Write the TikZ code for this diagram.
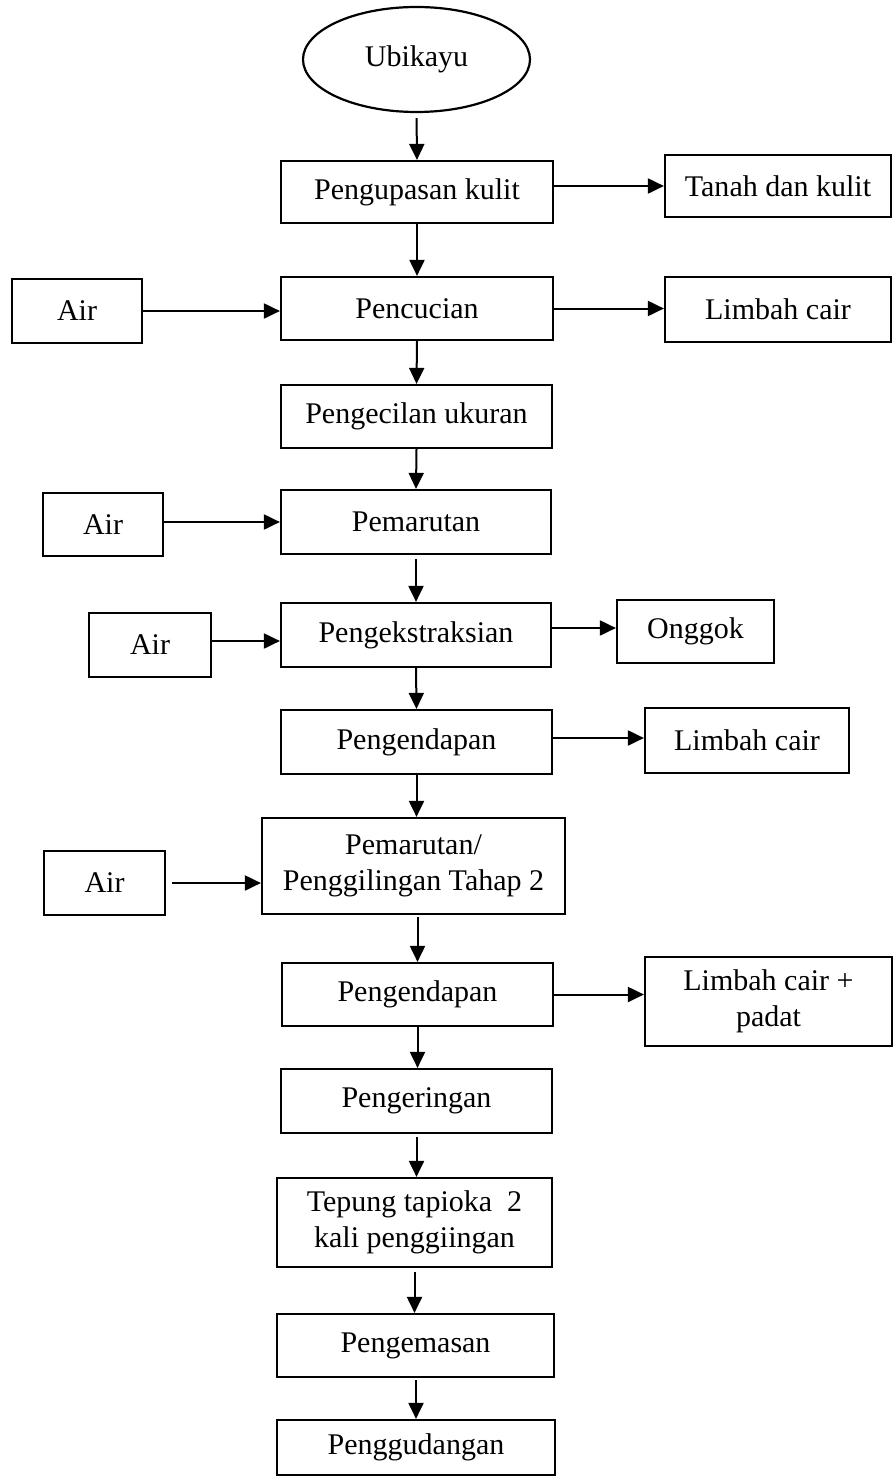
\documentclass[tikz,border=0pt]{standalone}
\usepackage{fontspec}
\setmainfont{Liberation Serif}
\usetikzlibrary{arrows.meta,shapes.geometric}

\tikzset{
  stepbox/.style={draw, line width=2.2pt, rectangle, inner sep=0pt, align=center,
    font=\fontsize{30}{36}\selectfont},
  startnode/.style={draw, line width=2.2pt, ellipse, inner sep=0pt,
    font=\fontsize{30}{36}\selectfont},
  flow/.style={line width=2pt, -{Triangle[length=16pt,width=15pt]}}
}

\begin{document}
\begin{tikzpicture}[x=1pt,y=-1pt]
\useasboundingbox (0,0) rectangle (893,1479);

% main column
\node[startnode, minimum width=227pt, minimum height=105pt] (ubi) at (416.5,59.5) {Ubikayu};
\node[stepbox, minimum width=272pt, minimum height=62pt] (kupas) at (417,192) {Pengupasan kulit};
\node[stepbox, minimum width=272pt, minimum height=63pt] (cuci) at (417,308.5) {Pencucian};
\node[stepbox, minimum width=271pt, minimum height=63pt] (kecil) at (416.5,416.5) {Pengecilan ukuran};
\node[stepbox, minimum width=270pt, minimum height=64pt] (parut) at (416,522) {Pemarutan};
\node[stepbox, minimum width=270pt, minimum height=64pt] (ekstrak) at (416,635) {Pengekstraksian};
\node[stepbox, minimum width=271pt, minimum height=64pt] (endapA) at (416.5,742) {Pengendapan};
\node[stepbox, minimum width=303pt, minimum height=96pt] (parutB) at (413.5,866) {Pemarutan/\\Penggilingan Tahap 2};
\node[stepbox, minimum width=271pt, minimum height=63pt] (endapB) at (417.5,994.5) {Pengendapan};
\node[stepbox, minimum width=271pt, minimum height=64pt] (kering) at (416.5,1101) {Pengeringan};
\node[stepbox, minimum width=275pt, minimum height=89pt,
      font=\fontsize{30}{35.5}\selectfont] (tepung) at (414.5,1222.5) {Tepung tapioka~ 2\\kali penggiingan};
\node[stepbox, minimum width=277pt, minimum height=63pt] (kemas) at (415.5,1345.5) {Pengemasan};
\node[stepbox, minimum width=278pt, minimum height=55pt] (gudang) at (416,1447.5) {Penggudangan};

% inputs on the left
\node[stepbox, minimum width=130pt, minimum height=64pt] (airA) at (77,311) {Air};
\node[stepbox, minimum width=120pt, minimum height=63pt] (airB) at (103,524.5) {Air};
\node[stepbox, minimum width=122pt, minimum height=64pt] (airC) at (150,645) {Air};
\node[stepbox, minimum width=121pt, minimum height=64pt] (airD) at (104.5,883) {Air};

% outputs on the right
\node[stepbox, minimum width=226pt, minimum height=62pt] (tanah) at (778,186) {Tanah dan kulit};
\node[stepbox, minimum width=226pt, minimum height=65pt] (limbahA) at (778,309.5) {Limbah cair};
\node[stepbox, minimum width=157pt, minimum height=63pt] (onggok) at (695.5,631.5) {Onggok};
\node[stepbox, minimum width=204pt, minimum height=65pt] (limbahB) at (747,740.5) {Limbah cair};
\node[stepbox, minimum width=247pt, minimum height=89pt] (limbahC) at (768.5,1001.5) {Limbah cair +\\padat};

% vertical flow
\draw[flow, shorten <=5pt] (ubi.south) -- (kupas.north);
\draw[flow] (kupas.south) -- (cuci.north);
\draw[flow] (cuci.south) -- (kecil.north);
\draw[flow] (kecil.south) -- (parut.north);
\draw[flow, shorten <=4pt] (parut.south) -- (ekstrak.north);
\draw[flow] (ekstrak.south) -- (endapA.north);
\draw[flow] (endapA.south) -- (parutB.north -| endapA.south);
\draw[flow, shorten <=2pt] (parutB.south -| endapB.north) -- (endapB.north);
\draw[flow] (endapB.south) -- (kering.north -| endapB.south);
\draw[flow, shorten <=3pt] (kering.south) -- (tepung.north -| kering.south);
\draw[flow, shorten <=4pt] (tepung.south) -- (kemas.north -| tepung.south);
\draw[flow, shorten <=2pt] (kemas.south -| gudang.north) -- (gudang.north);

% side inputs
\draw[flow] (airA.east) -- (airA.east -| cuci.west);
\draw[flow] (parut.west -| airB.east) -- (parut.west);
\draw[flow] ([yshift=4pt]airC.east) -- ([yshift=4pt]airC.east -| ekstrak.west);
\draw[flow, shorten <=6pt] (airD.east) -- (airD.east -| parutB.west);

% side outputs
\draw[flow] (tanah.west -| kupas.east) -- (tanah.west);
\draw[flow] (cuci.east) -- (cuci.east -| limbahA.west);
\draw[flow] ([yshift=3.5pt]onggok.west -| ekstrak.east) -- ([yshift=3.5pt]onggok.west);
\draw[flow] ([yshift=2.5pt]limbahB.west -| endapA.east) -- ([yshift=2.5pt]limbahB.west);
\draw[flow] (endapB.east) -- (endapB.east -| limbahC.west);
\end{tikzpicture}
\end{document}
